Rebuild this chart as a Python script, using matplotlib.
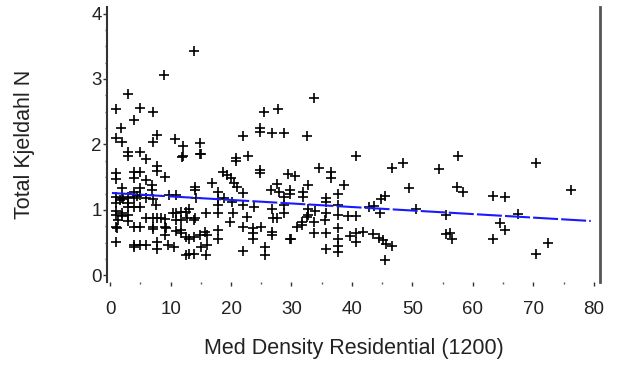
import numpy as np
import matplotlib
matplotlib.use("Agg")
import matplotlib.pyplot as plt
from matplotlib.ticker import MultipleLocator

plt.rcParams['font.family'] = ['Liberation Sans', 'DejaVu Sans']

# Med Density Residential (1200) vs Total Kjeldahl N
density = [
    2.9, 0.9, 4.9, 7.1, 4.0, 1.8, 0.9, 1.9, 7.8, 7.1, 10.8, 12.0, 11.9, 12.1, 2.9, 2.9,
    4.9, 5.9, 7.8, 7.8, 9.0, 0.9, 0.9, 4.0, 4.0, 4.9, 5.9, 7.0, 7.0, 1.9, 4.9, 4.0,
    1.9, 2.2, 1.6, 0.9, 0.9, 2.9, 2.9, 4.0, 4.4, 4.9, 6.0, 7.1, 7.6, 3.0, 4.0, 4.9,
    0.9, 1.9, 9.8, 10.9,
    0.9, 1.9, 2.9, 1.3, 2.9, 0.9, 1.1, 0.9, 4.0, 4.9, 4.0, 4.0, 4.9, 5.9, 6.0, 7.1,
    7.8, 8.5, 9.0, 7.1, 7.1, 9.0, 9.2, 9.0, 7.8, 7.8, 9.6, 10.6, 10.4, 10.9, 11.8, 12.5,
    10.9, 11.8, 10.9, 11.8, 12.5, 11.8, 12.6, 13.9, 8.9,
    25.5, 24.8, 24.8, 21.9, 14.8, 14.8, 15.1, 20.8, 20.8, 22.8, 24.8, 24.8, 18.6, 19.4,
    20.0, 20.5, 21.0, 16.9, 14.0, 14.0, 14.2, 21.9, 17.8, 17.8, 17.8, 17.8, 18.9, 20.2,
    21.9, 23.8, 20.3, 22.7, 19.9, 21.9, 24.9, 23.6, 23.7, 23.7, 17.8, 17.8, 14.8, 13.9,
    13.1, 15.7, 16.1, 15.0, 16.1, 15.8, 13.0, 13.8, 21.9, 25.7, 25.7, 13.1, 12.8, 14.0,
    13.9, 15.8,
    33.7, 27.7, 26.8, 28.7, 32.6, 29.5, 30.6, 34.6, 36.6, 36.6, 38.7, 26.6, 27.6, 27.9,
    29.7, 29.7, 31.9, 31.9, 32.8, 28.8, 28.8, 28.8, 26.8, 27.6, 26.9, 35.7, 35.7, 37.7,
    37.7, 32.7, 32.7, 32.5, 33.9, 35.7, 35.5, 37.7, 31.7, 30.9, 31.7, 33.7, 33.7, 26.8,
    26.8, 29.7, 29.9, 35.7, 37.7, 37.7, 37.7, 37.7, 35.7,
    40.6, 46.6, 48.5, 49.5, 45.5, 44.8, 42.8, 43.6, 44.6, 39.3, 40.6, 50.6, 39.6, 40.6,
    40.7, 41.8, 43.5, 44.5, 45.1, 45.6, 46.7, 45.5,
    57.5, 54.4, 57.4, 58.3, 63.4, 65.4, 55.5, 55.5, 56.3, 56.6, 64.5, 65.4, 63.4, 70.5,
    76.2, 67.4, 72.4, 70.5,
]
tkn = [
    2.77, 2.54, 2.56, 2.50, 2.37, 2.25, 2.10, 2.03, 2.15, 2.03, 2.08, 1.97, 1.81, 1.82, 1.89, 1.82,
    1.89, 1.78, 1.67, 1.60, 1.50, 1.56, 1.47, 1.58, 1.48, 1.58, 1.45, 1.38, 1.30, 1.33, 1.33, 1.28,
    1.18, 1.16, 1.15, 1.20, 1.10, 1.20, 1.10, 1.18, 1.21, 1.23, 1.18, 1.17, 1.07, 1.05, 1.05, 1.05,
    0.98, 0.95, 1.23, 1.22,
    0.92, 0.90, 0.92, 0.84, 0.83, 0.74, 0.73, 0.51, 0.74, 0.74, 0.47, 0.44, 0.46, 0.46, 0.87, 0.88,
    0.88, 0.87, 0.86, 0.74, 0.71, 0.74, 0.73, 0.61, 0.51, 0.41, 0.46, 0.44, 0.95, 0.96, 0.97, 0.97,
    0.84, 0.84, 0.67, 0.64, 0.58, 0.70, 0.31, 3.42, 3.06,
    2.49, 2.25, 2.19, 2.13, 2.02, 1.85, 1.85, 1.79, 1.75, 1.82, 1.61, 1.57, 1.58, 1.53,
    1.48, 1.41, 1.35, 1.41, 1.35, 1.30, 1.18, 1.26, 1.28, 1.17, 1.07, 0.95, 1.18, 1.12,
    1.07, 1.05, 0.95, 0.89, 0.82, 0.74, 0.74, 0.72, 0.64, 0.56, 0.69, 0.55, 0.61, 0.59,
    0.56, 0.66, 0.61, 0.43, 0.46, 0.31, 0.33, 0.33, 0.37, 0.44, 0.31, 1.02, 0.87, 0.87,
    0.84, 0.95,
    2.71, 2.54, 2.17, 2.18, 2.13, 1.55, 1.52, 1.64, 1.58, 1.49, 1.38, 1.30, 1.39, 1.27,
    1.30, 1.25, 1.28, 1.20, 1.38, 1.20, 1.07, 0.95, 1.01, 0.88, 0.87, 1.18, 1.12, 1.25,
    1.07, 1.02, 0.92, 0.89, 0.99, 0.95, 0.84, 0.92, 0.82, 0.74, 0.77, 0.82, 0.64, 0.66,
    0.61, 0.55, 0.55, 0.64, 0.72, 0.55, 0.45, 0.36, 0.41,
    1.83, 1.64, 1.72, 1.33, 1.21, 1.16, 1.04, 1.06, 0.95, 0.90, 0.90, 1.01, 0.60, 0.64,
    0.51, 0.66, 0.63, 0.57, 0.54, 0.48, 0.45, 0.24,
    1.83, 1.62, 1.35, 1.28, 1.21, 1.19, 0.92, 0.63, 0.65, 0.55, 0.80, 0.70, 0.55, 1.72,
    1.31, 0.93, 0.49, 0.32,
]

# regression line as drawn
fit_intercept = 1.26
fit_slope = -0.0054
fit_range = [0.3, 79.5]

fig = plt.figure(figsize=(6.19, 3.68), dpi=100)
ax = fig.add_axes([0.173, 0.234, 0.796, 0.747])

ax.plot(density, tkn, linestyle='none', marker='+', color='black',
        markersize=7.5, markeredgewidth=1.2)

xs = np.array(fit_range)
line, = ax.plot(xs, fit_intercept + fit_slope * xs, color='#1a1aff', linewidth=1.5)
line.set_dashes([12, 1.5])

ax.set_xlim(-0.5, 81)
ax.set_ylim(-0.1, 4.1)

ax.spines['top'].set_visible(False)
ax.spines['bottom'].set_visible(False)
ax.spines['left'].set_color('#333333')
ax.spines['left'].set_linewidth(1.5)
ax.spines['right'].set_color('#555555')
ax.spines['right'].set_linewidth(2)

ax.xaxis.set_major_locator(MultipleLocator(10))
ax.xaxis.set_minor_locator(MultipleLocator(5))
ax.yaxis.set_major_locator(MultipleLocator(1))
ax.yaxis.set_minor_locator(MultipleLocator(0.25))

ax.tick_params(axis='x', which='major', length=3, width=1, color='#333333',
               pad=11, labelsize=13.5, labelcolor='#222222')
ax.tick_params(axis='x', which='minor', length=1.5, width=1, color='#555555')
ax.tick_params(axis='y', which='major', length=3, width=1, color='#333333',
               pad=1, labelsize=13.5, labelcolor='#222222')
ax.tick_params(axis='y', which='minor', length=1.5, width=1, color='#555555')

ax.set_xlabel('Med Density Residential (1200)', fontsize=15.5, labelpad=14,
              color='#222222')
ax.set_ylabel('Total Kjeldahl N', fontsize=15.5, labelpad=40, color='#222222')

fig.savefig('out.png', dpi=100)
